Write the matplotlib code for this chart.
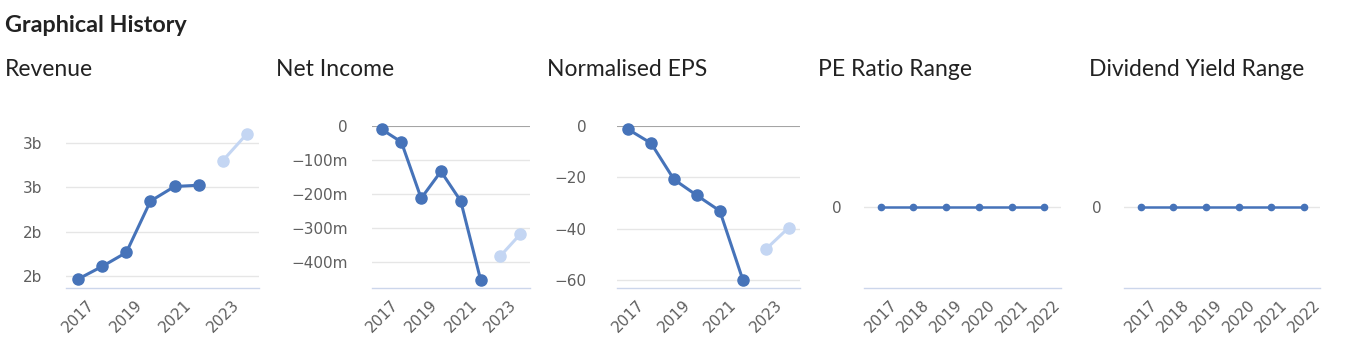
import matplotlib
matplotlib.use("Agg")
import matplotlib.pyplot as plt
from matplotlib.transforms import ScaledTranslation

# ---------------- data ----------------
years_all = ["2017", "2018", "2019", "2020", "2021", "2022", "2023", "2024"]
years_hist = ["2017", "2018", "2019", "2020", "2021", "2022"]
years_fc = ["2023", "2024"]

revenue_hist = [1.985, 2.056, 2.134, 2.422, 2.504, 2.511]      # billions
revenue_fc = [2.649, 2.799]
net_income_hist = [-9.7, -47.2, -213.0, -133.6, -221.0, -452.0]  # millions
net_income_fc = [-383.0, -319.0]
eps_hist = [-1.3, -6.7, -20.8, -27.0, -33.0, -59.7]
eps_fc = [-48.0, -39.6]
pe_ratio = [0, 0, 0, 0, 0, 0]
div_yield = [0, 0, 0, 0, 0, 0]

rev_ticks = [2.0, 2.25, 2.5, 2.75]
rev_tick_labels = ["2b", "2b", "3b", "3b"]
ni_ticks = [0, -100, -200, -300, -400]
ni_tick_labels = ["0", "\u2212100m", "\u2212200m", "\u2212300m", "\u2212400m"]
eps_ticks = [0, -20, -40, -60]
eps_tick_labels = ["0", "\u221220", "\u221240", "\u221260"]
zero_ticks = [0]
zero_tick_labels = ["0"]

main_title = "Graphical History"
panel_titles = ["Revenue", "Net Income", "Normalised EPS", "PE Ratio Range", "Dividend Yield Range"]

# ---------------- style ----------------
W, H = 1355, 359
BLUE = "#4673b9"
LIGHT = "#c4d6f3"
GRID = "#e6e6e6"
AXIS = "#ccd6eb"
TICKC = "#5f5f5f"
TITLEC = "#222222"
TICKFS = 11

fig = plt.figure(figsize=(W / 100, H / 100), dpi=100)

def make_ax(x0, x1, top=126, bottom=288):
    return fig.add_axes([x0 / W, 1 - bottom / H, (x1 - x0) / W, (bottom - top) / H])

def style(ax, pad_px):
    for s in ["top", "right", "left"]:
        ax.spines[s].set_visible(False)
    ax.spines["bottom"].set_color(AXIS)
    ax.spines["bottom"].set_linewidth(1)
    ax.tick_params(axis="both", length=0, colors=TICKC, labelsize=TICKFS)
    ax.tick_params(axis="y", pad=pad_px * 0.72)
    ax.grid(axis="y", color=GRID, linewidth=1)
    ax.set_axisbelow(True)

def xlabels(ax, idx, labels):
    ax.set_xticks(idx)
    ax.set_xticklabels(labels, rotation=45, ha="right", va="center",
                       rotation_mode="anchor", fontsize=TICKFS, color=TICKC)
    off = ScaledTranslation(14 / 100, -10 / 100, fig.dpi_scale_trans)
    for lab in ax.get_xticklabels():
        lab.set_transform(lab.get_transform() + off)

def big_series(ax, hist, fc):
    n_h = len(hist)
    xh = list(range(n_h))
    xf = list(range(n_h, n_h + len(fc)))
    ax.plot(xf, fc, color=LIGHT, lw=2.2, marker="o", ms=8, zorder=3, clip_on=False)
    ax.plot(xh, hist, color=BLUE, lw=2.2, marker="o", ms=8, zorder=4, clip_on=False)
    ax.set_xlim(-0.5, n_h + len(fc) - 0.5)

# Revenue
ax = make_ax(66, 259)
style(ax, 24)
big_series(ax, revenue_hist, revenue_fc)
ax.set_ylim(1.935, 2.843)
ax.set_yticks(rev_ticks)
ax.set_yticklabels(rev_tick_labels)
xlabels(ax, [0, 2, 4, 6], years_all[0::2])

# Net income
ax = make_ax(371.7, 530)
style(ax, 24)
big_series(ax, net_income_hist, net_income_fc)
ax.set_ylim(-477, 0)
ax.set_yticks(ni_ticks)
ax.set_yticklabels(ni_tick_labels)
ax.axhline(0, color="#999999", lw=1.2, zorder=2)
xlabels(ax, [0, 2, 4, 6], years_all[0::2])

# EPS
ax = make_ax(616.7, 800)
style(ax, 30)
big_series(ax, eps_hist, eps_fc)
ax.set_ylim(-63, 0)
ax.set_yticks(eps_ticks)
ax.set_yticklabels(eps_tick_labels)
ax.axhline(0, color="#999999", lw=1.2, zorder=2)
xlabels(ax, [0, 2, 4, 6], years_all[0::2])

# PE ratio and Dividend yield
for (x0, x1), vals in [((864.3, 1060.7), pe_ratio), ((1124.3, 1320.3), div_yield)]:
    ax = make_ax(x0, x1)
    style(ax, 22.6)
    ax.plot(range(len(vals)), vals, color=BLUE, lw=1.8, marker="o", ms=4.5, zorder=3, clip_on=False)
    ax.set_xlim(-0.5, len(vals) - 0.5)
    ax.set_ylim(-1, 1)
    ax.set_yticks(zero_ticks)
    ax.set_yticklabels(zero_tick_labels)
    xlabels(ax, list(range(len(years_hist))), years_hist)

# Titles
fig.text(5 / W, 1 - 25 / H, main_title, fontfamily="Lato", fontweight="bold",
         fontsize=16.8, color=TITLEC, va="center", ha="left")
for i, t in enumerate(panel_titles):
    fig.text((5 + 271 * i) / W, 1 - 70 / H, t, fontfamily="Lato", fontsize=16.5,
             color=TITLEC, va="center", ha="left")

fig.savefig("out.png", dpi=100, facecolor="white")
